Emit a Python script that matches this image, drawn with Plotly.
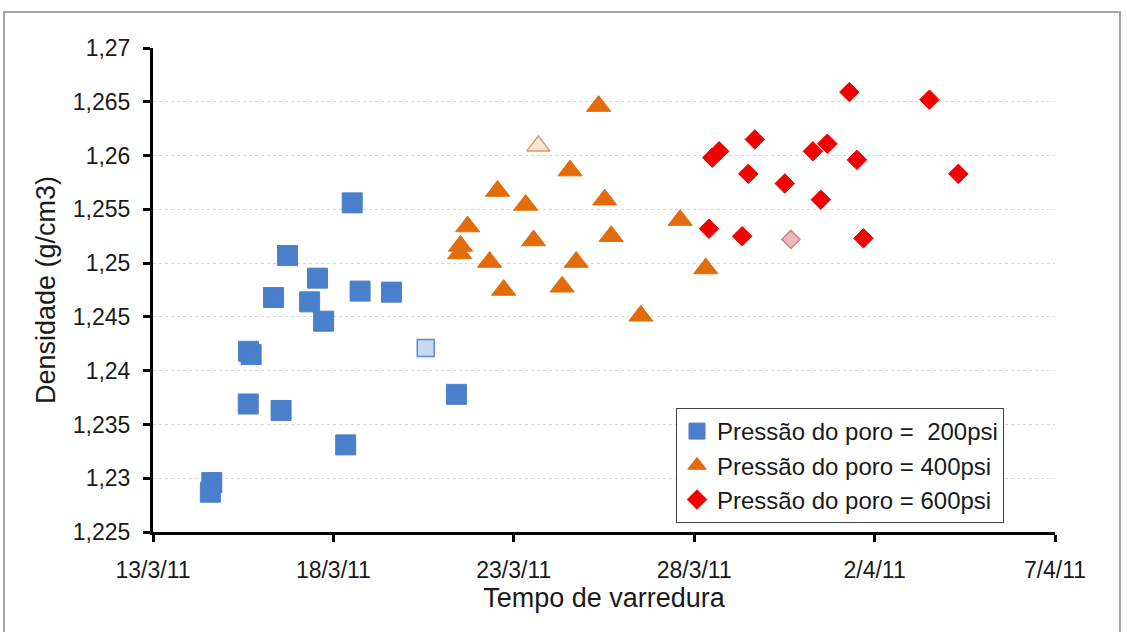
import plotly.graph_objects as go

# Densidade medida ao longo do tempo de varredura, por pressão de poro
t_200 = ["2011-03-18 12:30", "2011-03-16 17:30", "2011-03-17 13:26", "2011-03-16 08:10",
         "2011-03-17 08:10", "2011-03-18 17:45", "2011-03-19 14:38", "2011-03-17 17:30",
         "2011-03-15 15:36", "2011-03-15 17:17", "2011-03-15 15:21", "2011-03-16 13:12",
         "2011-03-21 09:50", "2011-03-18 08:10", "2011-03-14 15:07", "2011-03-14 14:10"]
d_200 = [1.2556, 1.2507, 1.2486, 1.2468, 1.2464, 1.2474, 1.2473, 1.2446,
         1.2418, 1.2415, 1.2369, 1.2363, 1.2378, 1.2331, 1.2296, 1.2287]

t_400 = ["2011-03-25 08:24", "2011-03-24 13:26", "2011-03-22 13:12", "2011-03-23 07:55",
         "2011-03-25 12:29", "2011-03-27 14:38", "2011-03-21 17:17", "2011-03-23 13:12",
         "2011-03-25 16:48", "2011-03-21 12:29", "2011-03-21 12:00", "2011-03-22 07:55",
         "2011-03-24 17:31", "2011-03-22 17:17", "2011-03-24 08:10", "2011-03-26 12:29",
         "2011-03-28 07:41"]
d_400 = [1.2646, 1.2586, 1.2567, 1.2554, 1.2559, 1.2540, 1.2534, 1.2521,
         1.2525, 1.2516, 1.2509, 1.2501, 1.2501, 1.2475, 1.2478, 1.2451,
         1.2495]

t_600 = ["2011-04-01 07:12", "2011-04-03 12:29", "2011-03-29 16:19", "2011-03-28 12:00",
         "2011-03-28 16:34", "2011-03-31 06:58", "2011-03-31 16:34", "2011-04-01 12:14",
         "2011-04-04 07:41", "2011-03-29 12:00", "2011-03-30 12:14", "2011-03-31 12:14",
         "2011-03-28 09:50", "2011-03-29 07:55", "2011-04-01 16:34"]
d_600 = [1.2659, 1.2652, 1.2615, 1.2598, 1.2604, 1.2604, 1.2611, 1.2596,
         1.2583, 1.2583, 1.2574, 1.2559, 1.2532, 1.2525, 1.2523]

# pontos destacados (um por série)
t_hl = ["2011-03-20 13:26", "2011-03-23 16:19", "2011-03-30 16:19"]
d_hl = [1.2421, 1.2609, 1.2522]

series_names = ["Pressão do poro =\u00a0 200psi", "Pressão do poro = 400psi",
                "Pressão do poro = 600psi"]

x_tickvals = ["2011-03-13", "2011-03-18", "2011-03-23", "2011-03-28", "2011-04-02", "2011-04-07"]
x_ticktext = ["13/3/11", "18/3/11", "23/3/11", "28/3/11", "2/4/11", "7/4/11"]
y_tickvals = [1.225, 1.23, 1.235, 1.24, 1.245, 1.25, 1.255, 1.26, 1.265, 1.27]
y_ticktext = ["1,225", "1,23", "1,235", "1,24", "1,245", "1,25", "1,255", "1,26", "1,265", "1,27"]

BLUE = "#4A7FCB"
ORANGE = "#E36C0A"
RED = "#F20000"
FONT = "Liberation Sans, Arial, sans-serif"

fig = go.Figure()
fig.add_trace(go.Scatter(x=t_200, y=d_200, mode="markers", name=series_names[0],
                         marker=dict(symbol="square", size=20, color=BLUE,
                                     line=dict(color=BLUE, width=1))))
fig.add_trace(go.Scatter(x=t_400, y=d_400, mode="markers", name=series_names[1],
                         marker=dict(symbol="triangle-up", size=21, color=ORANGE,
                                     line=dict(color=ORANGE, width=1))))
fig.add_trace(go.Scatter(x=t_600, y=d_600, mode="markers", name=series_names[2],
                         marker=dict(symbol="diamond", size=15, color=RED,
                                     line=dict(color=RED, width=1))))

hl_symbols = ["square", "triangle-up", "diamond"]
hl_sizes = [17, 20, 14]
hl_fill = ["#C6D9F0", "#FCE6D4", "#E8B9B9"]
hl_line = ["#5B8BD0", "#D99A66", "#D48080"]
for i in range(3):
    fig.add_trace(go.Scatter(x=[t_hl[i]], y=[d_hl[i]], mode="markers", showlegend=False,
                             marker=dict(symbol=hl_symbols[i], size=hl_sizes[i],
                                         color=hl_fill[i],
                                         line=dict(color=hl_line[i], width=1.5))))

# moldura externa da figura
L, R, T, B = 153, 72, 48, 100
W, H = 1127, 632
pw, ph = W - L - R, H - T - B
def px_x(v):
    return (v - L) / pw
def px_y(v):
    return (H - B - v) / ph

fig.add_shape(type="rect", xref="paper", yref="paper",
              x0=px_x(4), x1=px_x(1120), y0=px_y(645), y1=px_y(12),
              line=dict(color="#A6A6A6", width=2), fillcolor="rgba(0,0,0,0)", layer="below")

fig.update_layout(
    width=W, height=H,
    margin=dict(l=L, r=R, t=T, b=B),
    paper_bgcolor="white", plot_bgcolor="white",
    font=dict(family=FONT, color="#1a1a1a", size=23),
    separators=",.",
    legend=dict(x=px_x(676), y=px_y(408), xanchor="left", yanchor="top",
                bgcolor="white", bordercolor="#404040", borderwidth=1,
                font=dict(size=24, family=FONT, color="#1a1a1a"),
                itemwidth=30, tracegroupgap=0),
    xaxis=dict(type="date", range=["2011-03-13", "2011-04-07"],
               tickvals=x_tickvals, ticktext=x_ticktext,
               showline=True, linecolor="black", linewidth=3,
               ticks="outside", ticklen=7, tickwidth=3, tickcolor="black",
               showgrid=False, zeroline=False, ticklabelstandoff=8,
               tickfont=dict(size=23),
               title=dict(text="Tempo de varredura", font=dict(size=27), standoff=7)),
    yaxis=dict(range=[1.225, 1.27], tickvals=y_tickvals, ticktext=y_ticktext,
               showline=True, linecolor="black", linewidth=3,
               ticks="outside", ticklen=7, tickwidth=3, tickcolor="black",
               showgrid=True, gridcolor="#D6D6D6", griddash="dot", gridwidth=1,
               zeroline=False, ticklabelstandoff=8,
               tickfont=dict(size=23),
               title=dict(text="Densidade (g/cm3)", font=dict(size=27), standoff=10)),
)

fig.write_html("out.html")
